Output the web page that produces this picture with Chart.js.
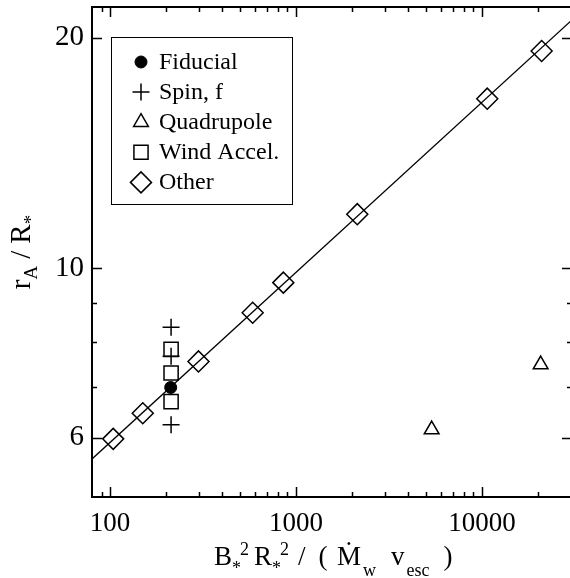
<!DOCTYPE html>
<html>
<head>
<meta charset="utf-8">
<script src="https://cdn.jsdelivr.net/npm/chart.js@4.4.1/dist/chart.umd.min.js"></script>
<style>
  html, body { margin: 0; padding: 0; background: #fff; overflow: hidden; }
  #wrap { width: 576px; height: 578px; }
</style>
</head>
<body>
<div id="wrap"><canvas id="chart" width="576" height="578"></canvas></div>
<script>
// Values (log-log plot)
const otherX = [104, 150, 299, 585, 855, 2136, 10680, 20940];
const otherY = [5.98, 6.46, 7.55, 8.74, 9.57, 11.76, 16.65, 19.22];
const fiducialX = [212];
const fiducialY = [6.98];
const spinX = [213, 213, 213];
const spinY = [8.37, 7.67, 6.24];
const quadX = [5366, 20690];
const quadY = [6.15, 7.48];
const windX = [213, 213, 213];
const windY = [7.83, 7.29, 6.69];
// fitted relation, end points as drawn
const fitX = [80, 30500];
const fitY = [5.63, 21.1];

const xTicks = [90, 100, 200, 300, 400, 500, 600, 700, 800, 900,
                1000, 2000, 3000, 4000, 5000, 6000, 7000, 8000, 9000, 10000, 20000];
const xLabels = [100, 1000, 10000];
const yTicks = [6, 7, 8, 9, 10, 20];
const yLabels = [6, 10, 20];

const SERIF = "'Liberation Serif', 'Times New Roman', serif";

const pts = (xs, ys) => xs.map((x, i) => ({ x, y: ys[i] }));

function font(size) {
    return size + 'px ' + SERIF;
}

// draw a run of text pieces with sub/superscripts
function drawRich(ctx, segs, x, y, align) {
    let total = 0;
    segs.forEach(s => {
        ctx.font = font(s.s);
        s.w = ctx.measureText(s.t).width;
        total += (s.gap || 0) + s.w;
    });
    let cx = align === 'center' ? x - total / 2 : x;
    segs.forEach(s => {
        cx += s.gap || 0;
        ctx.font = font(s.s);
        ctx.fillText(s.t, cx, y + (s.dy || 0));
        cx += s.w;
    });
}

const xTitle = [
    { t: 'B', s: 27 },
    { t: '*', s: 18, dy: 9 },
    { t: '2', s: 18, dy: -10, gap: -1 },
    { t: 'R', s: 27, gap: 5 },
    { t: '*', s: 18, dy: 9 },
    { t: '2', s: 18, dy: -10, gap: -1 },
    { t: '/', s: 27, gap: 9 },
    { t: '(', s: 27, gap: 13 },
    { t: '\u1E40', s: 27, gap: 9.5 },
    { t: 'w', s: 18, dy: 11, gap: 2 },
    { t: 'v', s: 27, gap: 15 },
    { t: 'esc', s: 18, dy: 11, gap: 2 },
    { t: ')', s: 27, gap: 14 },
];

const yTitle = [
    { t: 'r', s: 29 },
    { t: 'A', s: 19, dy: 7 },
    { t: '/', s: 29, gap: 7 },
    { t: 'R', s: 29, gap: 7 },
    { t: '*', s: 19, dy: 7 },
];

const framePlugin = {
    id: 'frame',
    afterDraw(chart) {
        const ctx = chart.ctx;
        const a = chart.chartArea;
        const xs = chart.scales.x;
        const ys = chart.scales.y;
        ctx.save();
        ctx.strokeStyle = '#000';
        ctx.fillStyle = '#000';

        // inward ticks on all four sides
        ctx.lineWidth = 1.5;
        ctx.beginPath();
        xTicks.forEach(v => {
            const px = Math.round(xs.getPixelForValue(v)) + 0.5;
            const len = xLabels.includes(v) ? 10 : 5;
            ctx.moveTo(px, a.bottom); ctx.lineTo(px, a.bottom - len);
            ctx.moveTo(px, a.top); ctx.lineTo(px, a.top + len);
        });
        yTicks.forEach(v => {
            const py = Math.round(ys.getPixelForValue(v)) + 0.5;
            const len = yLabels.includes(v) ? 10 : 5;
            ctx.moveTo(a.left, py); ctx.lineTo(a.left + len, py);
            ctx.moveTo(a.right, py); ctx.lineTo(a.right - len, py);
        });
        ctx.stroke();

        ctx.lineWidth = 2;
        ctx.strokeRect(a.left, a.top, a.right - a.left, a.bottom - a.top);

        // axis titles
        ctx.textBaseline = 'alphabetic';
        ctx.textAlign = 'left';
        drawRich(ctx, xTitle, 214, 565, 'left');
        ctx.save();
        ctx.translate(30, (a.top + a.bottom) / 2);
        ctx.rotate(-Math.PI / 2);
        drawRich(ctx, yTitle, 0, 0, 'center');
        ctx.restore();

        // legend box
        ctx.lineWidth = 1;
        ctx.strokeRect(111.5, 37.5, 181, 167);
        const items = chart.data.datasets.filter(d => d.label !== 'fit');
        ctx.font = font(24);
        items.forEach((d, i) => {
            const cy = 62 + i * 30.1;
            ctx.fillStyle = d.backgroundColor;
            ctx.strokeStyle = '#000';
            ctx.lineWidth = d.borderWidth;
            Chart.helpers.drawPoint(ctx, {
                pointStyle: d.pointStyle,
                radius: d.pointRadius,
                rotation: 0,
                borderWidth: d.borderWidth,
            }, 141, cy);
            ctx.fillStyle = '#000';
            ctx.fillText(d.label, 159, cy + 7);
        });
        ctx.restore();
    }
};

const hollow = 'rgba(0,0,0,0)';

new Chart(document.getElementById('chart'), {
    type: 'scatter',
    data: {
        datasets: [
            { label: 'Fiducial', data: pts(fiducialX, fiducialY), pointStyle: 'circle',
              pointRadius: 6, backgroundColor: '#000', borderColor: '#000', borderWidth: 1, order: 0 },
            { label: 'Spin, f', data: pts(spinX, spinY), pointStyle: 'cross',
              pointRadius: 8.5, backgroundColor: hollow, borderColor: '#000', borderWidth: 1.5, order: 1 },
            { label: 'Quadrupole', data: pts(quadX, quadY), pointStyle: 'triangle',
              pointRadius: 8.5, backgroundColor: hollow, borderColor: '#000', borderWidth: 1.5, order: 2 },
            { label: 'Wind Accel.', data: pts(windX, windY), pointStyle: 'rect',
              pointRadius: 10, backgroundColor: hollow, borderColor: '#000', borderWidth: 1.5, order: 3 },
            { label: 'Other', data: pts(otherX, otherY), pointStyle: 'rectRot',
              pointRadius: 10.5, backgroundColor: hollow, borderColor: '#000', borderWidth: 1.5, order: 4 },
            { label: 'fit', data: pts(fitX, fitY), showLine: true, pointRadius: 0,
              borderColor: '#000', borderWidth: 1.3, backgroundColor: hollow, order: 10 },
        ],
    },
    options: {
        responsive: false,
        animation: false,
        layout: { autoPadding: false, padding: { left: 0, right: 4, top: 7, bottom: 0 } },
        plugins: {
            legend: { display: false },
            tooltip: { enabled: false },
        },
        scales: {
            x: {
                type: 'logarithmic',
                min: 80,
                max: 30500,
                grid: { display: false, drawTicks: false },
                border: { display: false },
                afterBuildTicks: s => { s.ticks = xTicks.map(v => ({ value: v })); },
                afterFit: s => { s.height = 81; s.paddingLeft = 0; s.paddingRight = 0; },
                ticks: {
                    autoSkip: false,
                    maxRotation: 0,
                    padding: 11,
                    color: '#000',
                    font: { family: SERIF, size: 27 },
                    callback: v => xLabels.includes(v) ? String(v) : '',
                },
            },
            y: {
                type: 'logarithmic',
                min: 5.02,
                max: 21.94,
                grid: { display: false, drawTicks: false },
                border: { display: false },
                afterBuildTicks: s => { s.ticks = yTicks.map(v => ({ value: v })); },
                afterFit: s => { s.width = 92; s.paddingTop = 0; s.paddingBottom = 0; },
                ticks: {
                    autoSkip: false,
                    padding: 8,
                    color: '#000',
                    font: { family: SERIF, size: 29 },
                    callback: v => yLabels.includes(v) ? String(v) : '',
                },
            },
        },
    },
    plugins: [framePlugin],
});
</script>
</body>
</html>
